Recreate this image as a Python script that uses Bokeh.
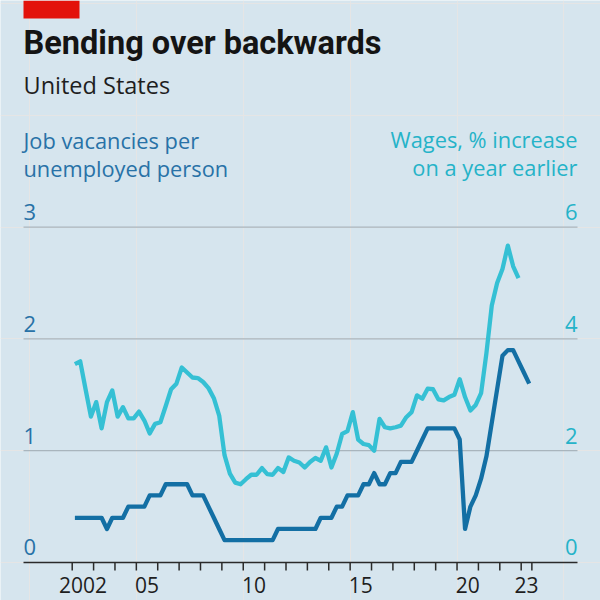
from bokeh.plotting import figure
from bokeh.models import Range1d, Label, BoxAnnotation
from bokeh.embed import file_html
from bokeh.resources import INLINE
import pandas as pd

# ---------------- data ----------------
start_quarter = "2002Q1"
vacancies = [0.4, 0.4, 0.4, 0.4, 0.4, 0.4, 0.3, 0.4, 0.4, 0.4,
             0.5, 0.5, 0.5, 0.5, 0.6, 0.6, 0.6, 0.7, 0.7, 0.7,
             0.7, 0.7, 0.6, 0.6, 0.6, 0.5, 0.4, 0.3, 0.2, 0.2,
             0.2, 0.2, 0.2, 0.2, 0.2, 0.2, 0.2, 0.2, 0.3, 0.3,
             0.3, 0.3, 0.3, 0.3, 0.3, 0.3, 0.4, 0.4, 0.4, 0.5,
             0.5, 0.6, 0.6, 0.6, 0.7, 0.7, 0.8, 0.7, 0.7, 0.8,
             0.8, 0.9, 0.9, 0.9, 1.0, 1.1, 1.2, 1.2, 1.2, 1.2,
             1.2, 1.2, 1.1, 0.3, 0.5, 0.6, 0.75, 0.95, 1.25, 1.55,
             1.85, 1.9, 1.9, 1.8, 1.7, 1.6]
wages = [3.55, 3.60, 3.10, 2.61, 2.87, 2.40, 2.87, 3.08, 2.61, 2.78,
         2.58, 2.58, 2.70, 2.54, 2.31, 2.48, 2.51, 2.80, 3.10, 3.20,
         3.49, 3.40, 3.31, 3.30, 3.23, 3.12, 2.94, 2.63, 1.92, 1.59,
         1.43, 1.40, 1.49, 1.57, 1.57, 1.69, 1.58, 1.57, 1.69, 1.62,
         1.88, 1.82, 1.79, 1.70, 1.80, 1.87, 1.82, 2.06, 1.70, 1.95,
         2.30, 2.35, 2.69, 2.20, 2.12, 2.10, 2.00, 2.57, 2.42, 2.40,
         2.42, 2.45, 2.60, 2.69, 2.99, 2.93, 3.11, 3.10, 2.92, 2.90,
         2.96, 3.00, 3.28, 2.96, 2.72, 2.82, 3.03, 3.75, 4.60, 5.00,
         5.25, 5.67, 5.30, 5.09]
x_tick_years = list(range(2002, 2024)) + [2023.5]
x_label_pos = [2002.5, 2005.5, 2010.5, 2015.5, 2020.5, 2023.25]
x_label_text = ["2002", "05", "10", "15", "20", "23"]
left_ticks = [0, 1, 2, 3]
right_ticks = [0, 2, 4, 6]

title = "Bending over backwards"
subtitle = "United States"
left_title = ["Job vacancies per", "unemployed person"]
right_title = ["Wages, % increase", "on a year earlier"]


def quarter_mid(n):
    periods = pd.period_range(start_quarter, periods=n, freq="Q")
    return [p.year + (p.quarter - 0.5) / 4 for p in periods]


# ---------------- layout / style ----------------
W = H = 600
PLOT_X0, PLOT_X1 = 1999.722, 2025.634      # extent of axis line / gridlines
X_RANGE = (1998.646, 2026.710)             # whole canvas
Y_RANGE = (-0.340, 5.028)
PX_PER_UNIT = H / (Y_RANGE[1] - Y_RANGE[0])
TICK_LEN = 8 / PX_PER_UNIT
BASE_FIX = 0.37                            # baseline correction, in em

BG = "#d6e5ee"
VAC = "#136fa4"
WAG = "#35c0d4"
VAC_TXT = "#2872a7"
WAG_TXT = "#25b3c8"
GRID = "#a9b5bd"
AXIS = "#2a2a2a"
FONT = "Open Sans"
TFONT = "Roboto"

p = figure(width=W, height=H,
           x_range=Range1d(*X_RANGE), y_range=Range1d(*Y_RANGE),
           output_backend="svg", toolbar_location=None,
           x_axis_location=None, y_axis_location=None,
           min_border=0,
           background_fill_color=BG, border_fill_color=BG,
           outline_line_color=None)
p.extra_y_ranges = {"wages": Range1d(Y_RANGE[0] * 2, Y_RANGE[1] * 2)}


def label(text, x, y, fs, color, align="left", font=FONT, style="normal",
          x_units="screen", y_units="screen", y_range_name="default", lift=0):
    """y is the wanted baseline (screen units from bottom, or data units)."""
    p.add_layout(Label(x=x, y=y, x_units=x_units, y_units=y_units, text=text,
                       y_range_name=y_range_name,
                       y_offset=lift + BASE_FIX * fs, text_align=align,
                       text_baseline="alphabetic", text_font=font,
                       text_font_style=style, text_font_size=f"{fs}px",
                       text_color=color))


# gridlines
grid_vals = [t for t in left_ticks if t > 0]
p.segment(x0=[PLOT_X0] * len(grid_vals), x1=[PLOT_X1] * len(grid_vals),
          y0=grid_vals, y1=grid_vals, line_color=GRID, line_width=1.2)

# data lines
p.line(quarter_mid(len(wages)), wages, y_range_name="wages",
       line_color=WAG, line_width=4.3, line_join="round")
p.line(quarter_mid(len(vacancies)), vacancies,
       line_color=VAC, line_width=4.3, line_join="round")

# x axis line and ticks
p.segment(x0=[PLOT_X0], x1=[PLOT_X1], y0=[0], y1=[0], line_color=AXIS, line_width=1.6)
p.segment(x0=x_tick_years, x1=x_tick_years, y0=[0] * len(x_tick_years),
          y1=[-TICK_LEN] * len(x_tick_years), line_color=AXIS, line_width=1.5)

# x labels
for xv, txt in zip(x_label_pos, x_label_text):
    label(txt, xv, 8, 21, "#1e1e1e", align="center", x_units="data")

# y labels
for v in left_ticks:
    label(str(v), 23, v, 22, VAC_TXT, y_units="data", lift=7)
for v in right_ticks:
    label(str(v), 577, v, 22, WAG_TXT, align="right", y_units="data",
          y_range_name="wages", lift=7)

# header
p.add_layout(BoxAnnotation(left=23, right=79, bottom=582, top=600,
                           left_units="screen", right_units="screen",
                           bottom_units="screen", top_units="screen",
                           fill_color="#e3120b", fill_alpha=1, line_color=None))
label(title, 23, H - 55, 32.5, "#141414", font=TFONT, style="bold")
label(subtitle, 23, H - 93, 23.5, "#1e1e1e")
for i, line in enumerate(left_title):
    label(line, 23, H - 148 - 28 * i, 21.8, VAC_TXT)
for i, line in enumerate(right_title):
    label(line, 577, H - 147 - 28 * i, 21.8, WAG_TXT, align="right")

open("out.html", "w").write(file_html(p, INLINE))
